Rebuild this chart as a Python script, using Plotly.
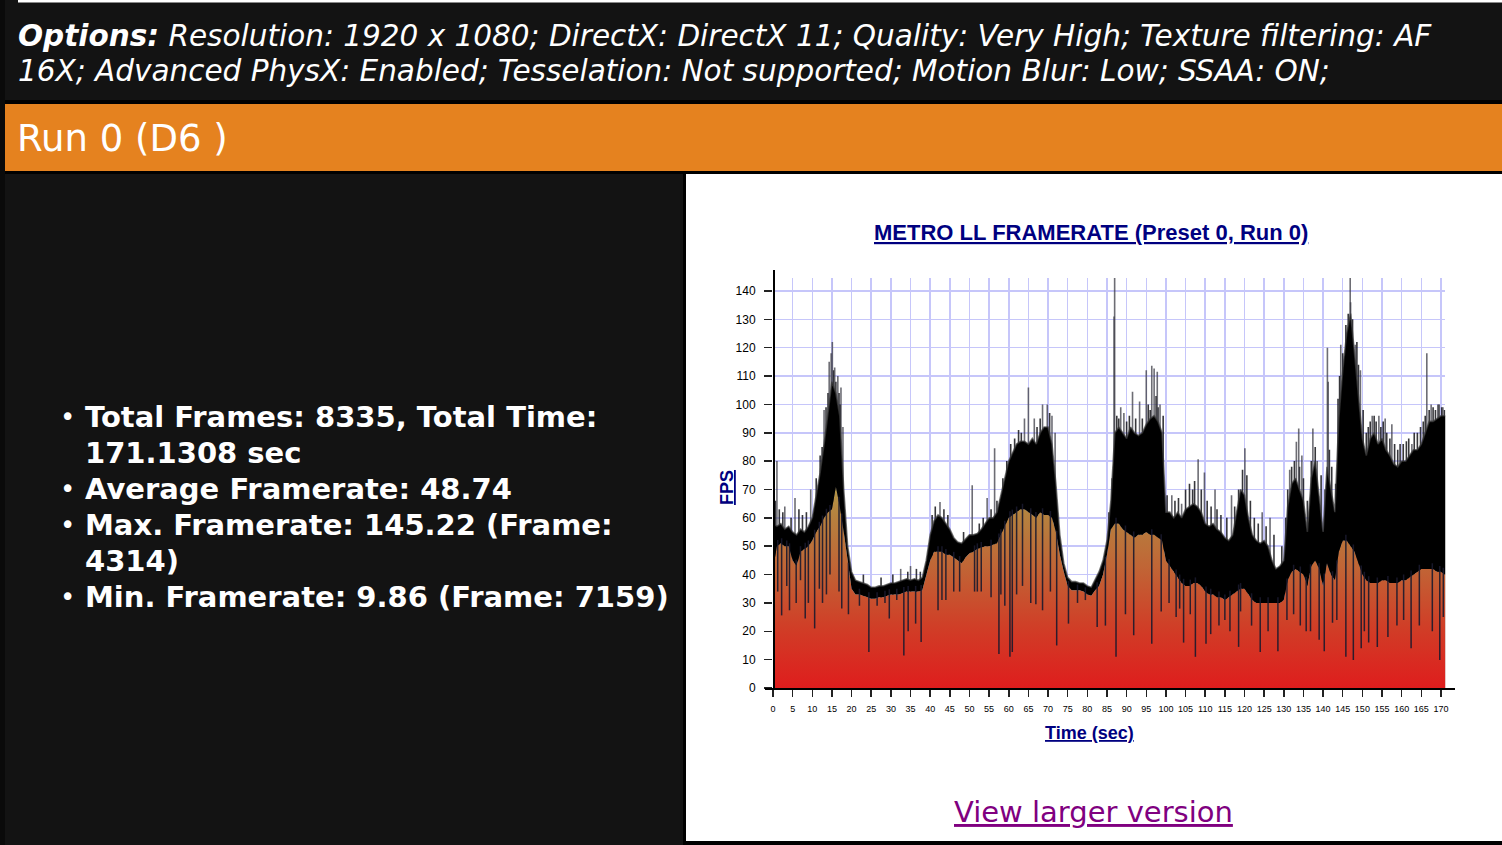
import numpy as np
import plotly.graph_objects as go

W, H = 1502, 845

# ---------------- data ----------------
t_env = list(range(0, 172)) + [171.13]

fps_high = [58, 57, 58, 56, 57, 55, 54, 56, 55, 57,
            60, 68, 76, 86, 98, 108, 104, 96, 70, 50,
            41, 38, 37.5, 37, 36.5, 35.5, 35.5, 36, 36, 36.5,
            37, 37, 37.5, 38, 38.5, 38, 38.5, 38, 39, 45,
            54, 59, 61, 60, 58, 56, 53, 51.5, 51, 52.5,
            54, 54, 54.5, 56, 58, 60, 60, 62, 68, 74,
            80, 83, 86, 87, 87, 86, 88, 86, 90, 92,
            92, 86, 72, 54, 44, 39, 37.5, 37.5, 37, 37,
            36, 35.5, 38, 41, 45, 52, 66, 90, 92, 90,
            88, 92, 90, 89, 90, 93, 95, 96, 94, 90,
            62, 62, 60, 62, 60, 63, 64, 65, 64, 62,
            58, 57, 58, 56, 55, 53, 52, 54, 62, 70,
            68, 60, 54, 52, 51, 52, 50, 45, 42, 43,
            45, 64, 72, 74, 70, 66, 55, 74, 80, 68,
            55, 78, 70, 62, 95, 112, 125, 132, 118, 104,
            88, 82, 88, 90, 86, 88, 84, 82, 79, 78,
            80, 80, 82, 84, 84, 86, 90, 94, 94, 95,
            96, 96, 96]

fps_low = [42, 50, 51, 50, 50, 45, 43, 48, 49, 50,
           52, 55, 57, 60, 62, 63, 71, 64, 55, 44,
           35, 33, 33, 32.5, 32, 31.5, 31.5, 32, 32, 32.5,
           33, 33, 33, 33.5, 34, 34, 34, 34, 34.5, 40,
           45, 48, 48, 48, 47, 47, 46, 45, 44, 46,
           47.5, 48, 49, 49.5, 50, 50, 50.5, 51, 54, 57,
           60, 61, 62, 63, 63, 62, 61, 60, 62, 61,
           61, 60, 55, 47, 41, 36, 34.5, 34.5, 34.5, 34,
           33, 32.5, 34.5, 36, 40, 47, 56, 58, 58, 56,
           55, 54, 53, 54, 54, 55, 54, 54, 53, 52,
           45, 43, 41, 39, 37, 36, 36, 37, 37, 36,
           34, 33, 33, 32, 32, 31, 32, 33, 34, 35,
           35, 33, 31, 30, 30, 30, 30, 30, 30, 30,
           31, 38, 41, 42, 41, 40, 36, 43, 45, 42,
           36, 44, 40, 38, 48, 52, 52, 50, 48, 44,
           40, 38, 37, 37, 37, 38, 38, 37, 37, 37,
           38, 38, 39, 40, 41, 42, 42, 42, 42, 41,
           41, 40, 40]

# tall isolated spikes above the dense band
spike_t = [0.2, 1.0, 3.0, 5.6, 9.6, 13.0, 14.3, 14.8, 15.1, 15.7, 16.5, 17.3, 17.8, 32.5, 35.0,
           42.5, 50.7, 54.5, 56.4, 64.0, 65.0, 66.5, 68.6, 69.8, 71.0, 71.8,
           86.8, 86.95, 88.5, 89.3, 91.5, 93.3, 95.0, 96.4, 97.0, 97.8, 98.5,
           101.5, 104.0, 108.2, 109.8, 112.5, 116.7, 120.1, 124.5, 126.5,
           131.5, 133.2, 133.8, 134.6, 137.4, 138.5, 141.1, 141.3, 144.5, 145.5,
           146.9, 147.0, 148.2, 149.5, 152.5, 154.2, 155.8, 157.5, 162.6,
           166.4, 167.5, 169.2, 170.5]
spike_fps = [85, 80, 64, 67, 70, 98, 115, 118, 122, 113, 110, 106, 92, 42, 43,
             65.6, 71.5, 67, 84.5, 95, 106, 95, 100, 100, 96, 90,
             131, 145.2, 99, 97, 104.5, 101, 112, 113.6, 112.7, 111.5, 100,
             68, 65, 80.7, 76, 70, 68, 84.5, 62, 60,
             77, 86.8, 91.5, 82, 91.5, 80, 120, 108, 121, 117,
             145, 136, 121, 112, 96, 96, 95, 93, 86,
             118, 100, 100, 99]

# shorter spikes that make the ragged top of the band
jag_t = [0.6, 1.6, 2.5, 4.6, 6.6, 7.5, 8.5,
         11.0, 12.0, 12.5, 13.5, 14.0, 15.4, 16.0, 16.8, 17.1,
         23.0, 27.5, 30.5, 34.3, 36.5, 37.5,
         40.5, 41.3, 43.5, 44.5, 48.5, 52.5, 53.5, 55.5, 57.0, 58.5, 59.5, 60.5, 61.5, 62.5,
         63.2, 67.2, 68.0, 70.4,
         85.5, 86.3, 87.5, 88.0, 90.0, 90.7, 92.3, 94.0, 95.5, 96.0, 97.5, 98.0, 99.3,
         100.3, 102.3, 103.2, 105.0, 106.0, 106.8, 107.3, 109.0, 110.5, 111.5, 113.0, 114.0,
         115.5, 117.5, 118.5, 119.5, 120.6, 121.5, 122.5, 123.5, 125.5, 127.5, 129.5,
         130.5, 131.0, 132.0, 132.7, 134.0, 135.0, 136.0, 137.0, 138.0, 139.5, 140.5, 141.6,
         142.2, 143.2, 143.8, 144.2, 145.0, 145.8, 146.4, 147.5, 148.6, 149.0, 150.2, 151.0,
         151.5, 152.0, 153.0, 153.5, 154.7, 155.3, 156.2, 157.0, 158.2, 159.0, 159.6, 160.4,
         161.2, 161.8, 163.2, 164.0, 164.8, 165.5, 166.0, 167.0, 168.0, 168.6, 169.5, 170.2, 170.9]
jag_fps = [66, 63, 62, 60, 63, 61, 62,
           74, 82, 85, 99, 104, 112, 108, 104, 100,
           40, 39, 40, 41, 42, 41,
           61, 64, 63, 61, 55, 58, 60, 63, 66, 74, 80, 86, 88, 91,
           90, 92, 95, 97,
           62, 74, 96, 95, 94, 96, 95, 95, 100, 98, 103, 99, 96,
           68, 66, 67, 70, 72, 70, 73, 70, 66, 64, 63, 61,
           60, 64, 70, 77, 75, 66, 60, 58, 57, 54, 50,
           60, 70, 78, 80, 78, 74, 66, 80, 85, 75, 70, 84,
           78, 72, 102, 110, 118, 128, 132, 130, 122, 114, 98, 90,
           92, 94, 96, 94, 92, 94, 90, 88, 86, 84, 86, 86,
           87, 88, 90, 90, 92, 94, 96, 98, 99, 98, 100, 99, 98]

# downward dips below the band
dip_t = [1.2, 2.2, 3.5, 4.2, 5.9, 7.0, 8.2, 9.0, 10.6, 11.8, 12.6, 13.6, 14.5, 16.8, 17.5,
         19.2, 22.0, 24.4, 26.5, 28.5, 29.6, 31.5, 33.3, 34.4, 36.3, 37.7,
         42.0, 43.0, 44.0, 46.0, 47.5, 51.3, 52.0, 53.0, 55.5, 57.5, 58.0, 59.0,
         60.3, 60.9, 62.0, 63.5, 65.6, 66.9, 68.6, 70.6, 72.2, 75.2, 77.5, 79.5, 82.5,
         84.6, 87.3, 89.7, 91.8, 96.4, 98.8, 100.8, 102.6, 103.5, 104.5, 106.2,
         107.5, 110.2, 111.4, 113.5, 115.0, 116.3, 118.5, 119.0, 121.8, 124.0, 126.0,
         128.5, 130.8, 132.5, 134.2, 135.7, 136.8, 139.0, 140.3, 142.4, 143.5,
         145.8, 147.7, 149.7, 150.5, 151.6, 153.8, 156.5, 158.8, 160.5, 162.4,
         164.5, 167.8, 169.7, 170.6]
dip_fps = [34, 25.6, 36, 27.4, 30, 38, 24.5, 30, 21, 35, 30, 33, 40, 34, 28,
           26, 29, 12.7, 29, 30, 24.5, 31, 11.5, 20, 22.7, 16.2,
           27.4, 31, 31, 34, 34, 34, 34, 34, 32, 12, 33, 29,
           11, 12.7, 33, 36, 30, 29.5, 27.4, 34, 15, 22.7, 30, 31, 21.5,
           22, 11, 26, 18.6, 15.6, 27, 30, 25, 28, 16, 26,
           11, 15.6, 19, 22, 24, 20, 14.5, 27, 22, 12.7, 20,
           13, 24, 26, 22, 20, 20, 17, 13, 23, 24,
           11, 9.86, 14, 20, 16, 14.5, 18, 22, 24, 14,
           22, 20, 9.9, 25]

x_ticks = list(range(0, 171, 5))
y_ticks = list(range(0, 141, 10))

options_line1 = ("<b><i>Options:</i></b><i> Resolution: 1920 x 1080; DirectX: DirectX 11; "
                 "Quality: Very High; Texture filtering: AF</i>")
options_line2 = "<i>16X; Advanced PhysX: Enabled; Tesselation: Not supported; Motion Blur: Low; SSAA: ON;</i>"
run_label = "Run 0 (D6 )"
stat_lines = ["Total Frames: 8335, Total Time:", "171.1308 sec", "Average Framerate: 48.74",
              "Max. Framerate: 145.22 (Frame:", "4314)", "Min. Framerate: 9.86 (Frame: 7159)"]
stat_bullet = [True, False, True, True, False, True]
chart_title = "METRO LL FRAMERATE (Preset 0, Run 0)"
x_title = "Time (sec)"
y_title = "FPS"
link_text = "View larger version"


def fx(x):
    return x / W


def fy(y):
    return 1 - y / H


def segs(ts, y0s, y1s):
    xs, ys = [], []
    for t, a, b in zip(ts, y0s, y1s):
        xs += [t, t, None]
        ys += [a, b, None]
    return xs, ys


fig = go.Figure()

# spikes (drawn first; the fills hide the part below the band)
sx, sy = segs(jag_t, [0] * len(jag_t), jag_fps)
fig.add_trace(go.Scatter(x=sx, y=sy, mode="lines", line=dict(color="rgba(20,20,25,0.85)", width=1.6),
                         hoverinfo="skip"))
sx, sy = segs(spike_t, [0] * len(spike_t), spike_fps)
fig.add_trace(go.Scatter(x=sx, y=sy, mode="lines", line=dict(color="rgba(60,60,70,0.75)", width=1.6),
                         hoverinfo="skip"))

# orange gradient area
fig.add_trace(go.Scatter(x=t_env, y=fps_low, mode="lines", line=dict(width=0, color="rgba(0,0,0,0)"),
                         fill="tozeroy",
                         fillgradient=dict(type="vertical", start=0, stop=72,
                                           colorscale=[[0, "#df1d1d"], [0.3, "#d03e27"], [0.6, "#c06636"],
                                                       [0.85, "#b5823f"], [1, "#b39a48"]]),
                         hoverinfo="skip"))

# black noisy band
fig.add_trace(go.Scatter(x=t_env, y=fps_high, mode="lines", line=dict(width=1.6, color="rgba(60,60,60,0.7)"),
                         fill="tonexty", fillcolor="#000000", hoverinfo="skip"))

# downward dips
low_arr = np.array(fps_low)
tops = [float(np.interp(t, t_env, low_arr)) + 2 for t in dip_t]
dx, dy = segs(dip_t, dip_fps, tops)
fig.add_trace(go.Scatter(x=dx, y=dy, mode="lines", line=dict(color="rgba(25,25,45,0.9)", width=1.5),
                         hoverinfo="skip"))

shapes = []
shapes.append(dict(type="rect", xref="paper", yref="paper", x0=fx(0), x1=fx(5), y0=fy(845), y1=fy(0),
                   fillcolor="#0a0a0a", line_width=0, layer="below"))
shapes.append(dict(type="rect", xref="paper", yref="paper", x0=fx(18), x1=fx(1502), y0=fy(2.5), y1=fy(0),
                   fillcolor="#ffffff", line_width=0, layer="below"))
shapes.append(dict(type="rect", xref="paper", yref="paper", x0=fx(5), x1=fx(1502), y0=fy(104), y1=fy(100),
                   fillcolor="#000000", line_width=0, layer="below"))
shapes.append(dict(type="rect", xref="paper", yref="paper", x0=fx(5), x1=fx(1502), y0=fy(171), y1=fy(104),
                   fillcolor="#e5821f", line_width=0, layer="below"))
shapes.append(dict(type="rect", xref="paper", yref="paper", x0=fx(5), x1=fx(1502), y0=fy(174), y1=fy(171),
                   fillcolor="#000000", line_width=0, layer="below"))
shapes.append(dict(type="rect", xref="paper", yref="paper", x0=fx(683), x1=fx(1502), y0=fy(845), y1=fy(174),
                   fillcolor="#000000", line_width=0, layer="below"))
shapes.append(dict(type="rect", xref="paper", yref="paper", x0=fx(686), x1=fx(1502), y0=fy(841), y1=fy(174),
                   fillcolor="#ffffff", line_width=0, layer="below"))
shapes.append(dict(type="line", xref="paper", yref="paper", x0=fx(774), x1=fx(774), y0=fy(690), y1=fy(270),
                   line=dict(color="#000000", width=2), layer="above"))
shapes.append(dict(type="line", xref="paper", yref="paper", x0=fx(765), x1=fx(1455), y0=fy(689), y1=fy(689),
                   line=dict(color="#000000", width=2), layer="above"))

ann = []
ann.append(dict(text=options_line1, x=fx(16), y=fy(36), xref="paper", yref="paper", xanchor="left",
                yanchor="middle", showarrow=False, font=dict(family="DejaVu Sans", size=29.5, color="#ffffff")))
ann.append(dict(text=options_line2, x=fx(16), y=fy(71), xref="paper", yref="paper", xanchor="left",
                yanchor="middle", showarrow=False, font=dict(family="DejaVu Sans", size=29.5, color="#ffffff")))
ann.append(dict(text=run_label, x=fx(15), y=fy(138), xref="paper", yref="paper", xanchor="left",
                yanchor="middle", showarrow=False, font=dict(family="DejaVu Sans", size=37, color="#ffffff")))
for i, (line, bul) in enumerate(zip(stat_lines, stat_bullet)):
    yy = 417 + 36 * i
    ann.append(dict(text="<b>" + line + "</b>", x=fx(83), y=fy(yy), xref="paper", yref="paper",
                    xanchor="left", yanchor="middle", showarrow=False,
                    font=dict(family="DejaVu Sans", size=29, color="#ffffff")))
    if bul:
        ann.append(dict(text="•", x=fx(67), y=fy(yy), xref="paper", yref="paper",
                        xanchor="center", yanchor="middle", showarrow=False,
                        font=dict(family="DejaVu Sans", size=26, color="#ffffff")))
ann.append(dict(text="<u><b>" + chart_title + "</b></u>", x=fx(1091), y=fy(233), xref="paper", yref="paper",
                xanchor="center", yanchor="middle", showarrow=False,
                font=dict(family="Liberation Sans", size=22, color="#000080")))
ann.append(dict(text="<u><b>" + x_title + "</b></u>", x=fx(1089), y=fy(733), xref="paper", yref="paper",
                xanchor="center", yanchor="middle", showarrow=False,
                font=dict(family="Liberation Sans", size=18, color="#000080")))
ann.append(dict(text="<u><b>" + y_title + "</b></u>", x=fx(727), y=fy(488), xref="paper", yref="paper",
                xanchor="center", yanchor="middle", showarrow=False, textangle=-90,
                font=dict(family="Liberation Sans", size=18, color="#000080")))
ann.append(dict(text="<u>" + link_text + "</u>", x=fx(1093), y=fy(812), xref="paper", yref="paper",
                xanchor="center", yanchor="middle", showarrow=False,
                font=dict(family="DejaVu Sans", size=29, color="#800080")))

fig.update_layout(
    width=W, height=H, margin=dict(l=0, r=0, t=0, b=0, pad=0, autoexpand=False),
    paper_bgcolor="#131313", plot_bgcolor="#ffffff",
    showlegend=False, hovermode=False,
    shapes=shapes, annotations=ann,
    xaxis=dict(domain=[fx(773), fx(1445.4)], range=[0, 171.13], tickmode="array", tickvals=x_ticks,
               ticktext=[str(v) for v in x_ticks], showgrid=True, gridcolor="#c6c6fa", gridwidth=1.5,
               zeroline=False, showline=False, ticks="outside", ticklen=8, tickwidth=1.5, tickcolor="#222222",
               tickfont=dict(family="Liberation Sans Narrow, Liberation Sans", size=9, color="#000000"),
               ticklabelstandoff=4, automargin=False, fixedrange=True),
    yaxis=dict(domain=[fy(688), fy(278)], range=[0, 144.57], tickmode="array", tickvals=y_ticks,
               ticktext=[str(v) for v in y_ticks], showgrid=True, gridcolor="#c6c6fa", gridwidth=1.5,
               zeroline=False, showline=False, ticks="outside", ticklen=8, tickwidth=1.5, tickcolor="#222222",
               tickfont=dict(family="Liberation Sans", size=12, color="#000000"),
               ticklabelstandoff=6, automargin=False, fixedrange=True),
)

fig.write_html("out.html", config={"displayModeBar": False, "staticPlot": True},
               post_script="document.body.style.margin='0';document.body.style.overflow='hidden';")
